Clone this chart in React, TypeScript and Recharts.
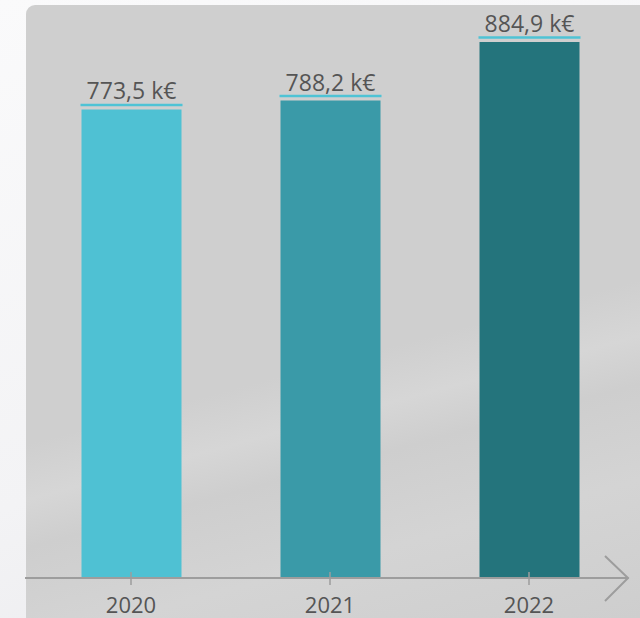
import React from 'react';
import { BarChart, Bar, XAxis, YAxis, Cell, LabelList } from 'recharts';

const years = ['2020', '2021', '2022'];
const revenue = [773.5, 788.2, 884.9];
const labels = ['773,5 k€', '788,2 k€', '884,9 k€'];
const COLORS = ['#4fc1d3', '#3a9aa8', '#24747c'];

const data = years.map((year, i) => ({ year, value: revenue[i], label: labels[i] }));

const FONT = '"Open Sans", sans-serif';

function ValueLabel(props: any) {
  const { x, y, width, index } = props;
  return (
    <g>
      <line x1={x - 1} x2={x + width + 1} y1={y - 4.5} y2={y - 4.5} stroke="#4fc3d5" strokeWidth={2.5} />
      <text x={x + width / 2} y={y - 10} textAnchor="middle" fontSize={23} fontFamily={FONT} fill="#555555">
        {labels[index]}
      </text>
    </g>
  );
}

function YearTick(props: any) {
  const { x, y, payload } = props;
  return (
    <g>
      <line x1={x} x2={x} y1={y - 6} y2={y + 7} stroke="#9d9d9d" strokeWidth={1.5} />
      <text x={x} y={y + 35} textAnchor="middle" fontSize={22} fontFamily={FONT} fill="#555555">
        {payload.value}
      </text>
    </g>
  );
}

export default function App() {
  return (
    <div style={{ position: 'absolute', left: 0, top: 0, width: 640, height: 618, overflow: 'hidden', background: 'linear-gradient(160deg, #fafafb 0%, #f3f3f5 60%, #e9e9ec 100%)' }}>
      <div
        style={{
          position: 'absolute',
          left: 26,
          top: 5,
          width: 630,
          height: 630,
          borderRadius: 9,
          background: 'linear-gradient(165deg, #cfcfcf 0%, #cfcfcf 55%, #d6d6d6 62%, #cecece 68%, #d4d4d4 80%, #cdcdcd 100%)',
        }}
      />
      <div style={{ position: 'absolute', left: 0, top: 0 }}>
        <BarChart width={640} height={618} data={data} margin={{ top: 42, right: 11.5, bottom: 0, left: 31.5 }} barCategoryGap={0}>
          <YAxis hide domain={[0, 884.9]} />
          <XAxis
            dataKey="year"
            height={40}
            axisLine={{ stroke: '#9d9d9d', strokeWidth: 2 }}
            tickLine={false}
            tickSize={0}
            tickMargin={0}
            tick={<YearTick />}
            interval={0}
          />
          <Bar dataKey="value" barSize={100} isAnimationActive={false}>
            {data.map((d, i) => (
              <Cell key={d.year} fill={COLORS[i]} />
            ))}
            <LabelList dataKey="label" content={<ValueLabel />} />
          </Bar>
        </BarChart>
      </div>
      <svg width={640} height={618} style={{ position: 'absolute', left: 0, top: 0, pointerEvents: 'none' }}>
        <line x1={25} x2={32} y1={578} y2={578} stroke="#9d9d9d" strokeWidth={2} />
        <polyline points="605,556 628,578 605,601" fill="none" stroke="#9d9d9d" strokeWidth={2} />
      </svg>
    </div>
  );
}
